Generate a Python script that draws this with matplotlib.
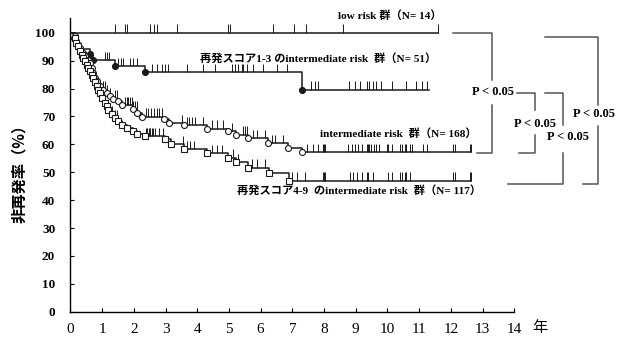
import numpy as np
import matplotlib.pyplot as plt

# event times (years) and survival level (%) after each drop
low_end = 11.58
low_cens = [1.40, 1.72, 1.77, 2.51, 2.64, 2.72, 3.35, 4.98, 5.03, 6.40, 7.06, 7.43, 8.61, 11.58]

s13_t = [0.10, 0.20, 0.30, 0.61, 0.72, 1.40, 2.35, 7.30]
s13_s = [98.0, 96.1, 94.1, 92.2, 90.2, 88.1, 85.8, 79.6]
s13_end = 11.3
s13_cens = [1.09, 1.14, 1.22, 1.51, 1.58, 1.67, 1.88, 1.98, 2.09, 2.56, 2.72, 2.88, 2.98, 3.09,
            3.67, 4.19, 4.56, 5.09, 5.19, 5.29, 5.40, 5.45, 5.56, 5.77, 6.08, 6.50, 6.82, 7.60,
            7.70, 7.80, 8.80, 8.96, 9.12, 9.34, 9.43, 9.53, 9.65, 9.81, 10.13, 10.60, 10.90,
            11.10, 11.26]

mid_t = [0.14, 0.19, 0.25, 0.30, 0.40, 0.46, 0.56, 0.62, 0.67, 0.72, 0.77, 0.83, 0.93, 1.03,
         1.14, 1.25, 1.35, 1.51, 1.62, 1.98, 2.11, 2.25, 2.95, 3.12, 3.58, 4.30, 4.98, 5.22,
         5.60, 6.24, 6.85, 7.29]
mid_s = [98.7, 96.9, 95.7, 94.5, 92.7, 91.5, 90.3, 89.1, 87.3, 85.6, 83.8, 82.6, 80.8, 79.6,
         78.4, 77.2, 76.3, 75.4, 74.0, 72.6, 71.3, 69.9, 69.0, 67.6, 66.8, 65.6, 64.6, 63.4,
         62.2, 60.5, 58.7, 57.1]
mid_end = 12.65
mid_cens = [1.03, 1.09, 1.14, 1.25, 1.40, 1.46, 1.72, 1.77, 1.83, 1.88, 1.93, 1.98, 2.04, 2.09,
            2.37, 2.45, 2.54, 2.63, 2.72, 2.80, 2.88, 3.51, 3.67, 3.75, 3.82, 3.93, 4.19, 4.45,
            4.61, 4.80, 5.08, 5.45, 5.50, 5.56, 5.77, 5.87, 6.14, 6.35, 6.45, 6.71, 7.45, 7.66,
            7.82, 7.97, 8.00, 8.02, 8.76, 8.87, 8.97, 9.08, 9.19, 9.36, 9.39, 9.43, 9.47, 9.57,
            9.64, 9.74, 9.97, 10.02, 10.13, 10.39, 10.45, 10.55, 10.60, 10.71, 10.76, 11.13,
            11.26, 12.08, 12.13, 12.60, 12.65]

s49_t = [0.14, 0.19, 0.25, 0.30, 0.35, 0.40, 0.46, 0.51, 0.56, 0.62, 0.67, 0.72, 0.77, 0.83,
         0.88, 0.93, 0.98, 1.09, 1.14, 1.19, 1.30, 1.40, 1.51, 1.62, 1.77, 1.98, 2.09, 2.35,
         2.98, 3.16, 3.58, 4.32, 4.98, 5.22, 5.61, 6.26, 6.89]
s49_s = [98.1, 96.3, 95.1, 93.3, 92.1, 90.9, 89.7, 88.5, 87.3, 86.2, 84.9, 83.8, 82.3, 80.8,
         79.6, 78.4, 76.6, 74.8, 73.6, 72.4, 70.9, 69.4, 68.2, 67.0, 65.8, 64.7, 63.7, 62.8,
         61.8, 60.0, 58.3, 56.8, 55.2, 53.5, 51.6, 49.6, 47.0]
s49_end = 12.65
s49_cens = [1.30, 1.40, 1.46, 2.37, 2.42, 2.47, 2.52, 2.56, 2.61, 2.67, 2.80, 2.91, 3.54, 3.68,
            3.77, 3.90, 4.45, 4.61, 4.77, 5.12, 5.29, 5.72, 5.87, 6.14, 6.98, 7.14, 7.40, 7.97,
            8.00, 8.02, 8.82, 8.92, 9.03, 9.19, 9.36, 9.39, 9.53, 10.02, 10.13, 10.39, 10.45,
            10.55, 10.60, 10.71, 12.08, 12.13, 12.60, 12.65]

xticks = list(range(0, 15))
yticks = list(range(0, 101, 10))

LC = '#1a1a1a'
GRAY = '#555555'
SERIF_JP = ['Liberation Serif', 'Noto Sans CJK JP']


def km_curve(ax, ev_t, ev_s, end, cens, marker=None, mfc='white'):
    ev_t = np.asarray(ev_t, float)
    levels = np.concatenate([[100.0], ev_s])
    xs = np.concatenate([[0.0], ev_t, [end]])
    ys = np.concatenate([levels, [levels[-1]]])
    ax.step(xs, ys, where='post', color=LC, lw=1.1, zorder=3)
    c = np.asarray(cens, float)
    lv = levels[np.searchsorted(ev_t, c, side='right')]
    ax.vlines(c, lv, lv + 3.0, color=LC, lw=0.7, zorder=2)
    if marker is not None and len(ev_t):
        ax.plot(ev_t, ev_s, ls='none', marker=marker, ms=4.3, mfc=mfc, mec=LC, mew=0.8, zorder=4)


fig = plt.figure(figsize=(6.27, 3.4), dpi=100)
ax = fig.add_axes([0.1124, 0.0832, 0.7078, 0.8641])

km_curve(ax, [], [], low_end, low_cens)
km_curve(ax, s13_t, s13_s, s13_end, s13_cens, marker='o', mfc=LC)
km_curve(ax, mid_t, mid_s, mid_end, mid_cens, marker='o')
km_curve(ax, s49_t, s49_s, s49_end, s49_cens, marker='s')

ax.set_xlim(0, 14)
ax.set_ylim(0, 105.3)
ax.spines['top'].set_visible(False)
ax.spines['right'].set_visible(False)
ax.spines['left'].set_linewidth(1.0)
ax.spines['bottom'].set_linewidth(1.0)
ax.set_xticks(xticks)
ax.set_yticks(yticks)
ax.tick_params(axis='x', direction='in', length=3, pad=8, labelsize=11)
ax.tick_params(axis='y', direction='in', length=3, pad=11, labelsize=9.5)
for lab in ax.get_xticklabels():
    lab.set_fontfamily('Liberation Serif')
for lab in ax.get_yticklabels():
    lab.set_fontfamily('Liberation Serif')
    lab.set_fontweight('bold')

ax.set_ylabel('非再発率（%）', family='Noto Sans CJK JP', weight='bold', fontsize=11)
ax.yaxis.set_label_coords(-0.098, 0.482)
ax.text(14.8, -0.055, '年', transform=ax.get_xaxis_transform(), family='Noto Sans CJK JP',
        fontsize=11, ha='center', va='center')

# group labels
lab_kw = dict(family=SERIF_JP, weight='bold', fontsize=8.1, va='center', clip_on=False)
ax.text(11.72, 106.3, 'low risk 群（N= 14）', ha='right', **lab_kw)
ax.text(11.55, 90.8, '再発スコア1-3 のintermediate risk  群（N= 51）', ha='right', **lab_kw)
ax.text(12.8, 64.0, 'intermediate risk  群（N= 168）', ha='right', **lab_kw)
ax.text(12.95, 43.3, '再発スコア4-9  のintermediate risk  群（N= 117）', ha='right', **lab_kw)

# significance brackets (x in years beyond the axis, y at the curve levels)
br_kw = dict(color=GRAY, lw=1.1, clip_on=False)
p_kw = dict(family='Liberation Serif', weight='bold', fontsize=9, ha='center', va='center',
            clip_on=False)
ax.plot([12.08, 13.29, 13.29], [99.8, 99.8, 83.1], **br_kw)
ax.plot([13.29, 13.29, 12.81], [74.1, 57.0, 57.0], **br_kw)
ax.text(13.33, 78.9, 'P < 0.05', **p_kw)

ax.plot([14.08, 14.65, 14.65], [78.3, 78.3, 72.3], **br_kw)
ax.plot([14.65, 14.65, 14.15], [63.3, 57.0, 57.0], **br_kw)
ax.text(14.66, 67.3, 'P < 0.05', **p_kw)

ax.plot([14.97, 15.53, 15.53], [78.3, 78.3, 66.9], **br_kw)
ax.plot([15.53, 15.53, 13.80], [56.8, 45.8, 45.8], **br_kw)
ax.text(15.69, 62.5, 'P < 0.05', **p_kw)

ax.plot([14.97, 16.65, 16.65], [98.3, 98.3, 74.1], **br_kw)
ax.plot([16.65, 16.65, 16.16], [66.6, 45.8, 45.8], **br_kw)
ax.text(16.53, 70.9, 'P < 0.05', **p_kw)

fig.savefig('out.png', dpi=100)
